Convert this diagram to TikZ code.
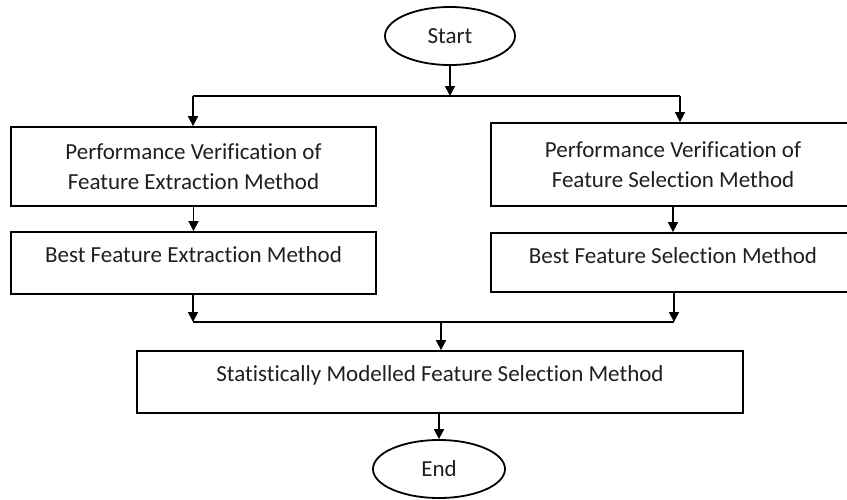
\documentclass[tikz,border=0pt]{standalone}
\usepackage{fontspec}
\setmainfont{Carlito}[Ligatures={NoCommon}]
\usetikzlibrary{arrows.meta,shapes.geometric}
\begin{document}
\begin{tikzpicture}[x=1pt,y=-1pt,
  box/.style={draw, line width=1.8pt, rectangle, inner sep=0pt},
  oval/.style={draw, line width=1.8pt, ellipse, inner sep=0pt, font=\fontsize{23}{27}\selectfont, text=black!88},
  txt/.style={font=\fontsize{23}{30}\selectfont, align=center, text=black!88, inner sep=0pt},
  arr/.style={line width=1.6pt, -{Triangle[length=10pt,width=10pt]}},
  ln/.style={line width=1.4pt}]
\useasboundingbox (0,0) rectangle (847,499);

% shapes
\node[oval, minimum width=130, minimum height=58] (start) at (450,36) {Start};
\node[box, minimum width=365, minimum height=79] (l1) at (193.5,166.5) {};
\node[box, minimum width=365, minimum height=62] (l2) at (193.5,263) {};
\node[box, minimum width=364, minimum height=83] (r1) at (673,164.5) {};
\node[box, minimum width=364, minimum height=59] (r2) at (673,262.5) {};
\node[box, minimum width=606, minimum height=62] (sm) at (440,382) {};
\node[oval, minimum width=132, minimum height=58] (end) at (439,469) {End};

% texts
\node[txt] (tl1) at (l1.center) {Performance Verification of\\Feature Extraction Method};
\node[txt] (tl2) at ([yshift=8pt]l2.center) {Best Feature Extraction Method};
\node[txt] (tr1) at (r1.center) {Performance Verification of\\Feature Selection Method};
\node[txt] (tr2) at ([yshift=7pt]r2.center) {Best Feature Selection Method};
\node[txt] (tsm) at ([yshift=7pt]sm.center) {Statistically Modelled Feature Selection Method};

% joints
\coordinate (j0) at (450,96);
\coordinate (jL) at (193,96);
\coordinate (jR) at (680,96);
\coordinate (mL) at (193,322);
\coordinate (mR) at (674,322);
\coordinate (mC) at (441,322);

% connectors
\draw[arr] (start.south) -- (j0);
\draw[ln] (jL) -- (jR);
\draw[arr] (jL) -- (l1.north -| jL);
\draw[arr] (jR) -- (r1.north -| jR);
\draw[arr] (l1) -- (l2);
\draw[arr] (r1) -- (r2);
\draw[arr] (l2.south -| mL) -- (mL);
\draw[arr] (r2.south -| mR) -- (mR);
\draw[ln] (mL) -- (mR);
\draw[arr] (mC) -- (sm.north -| mC);
\draw[arr] (sm.south -| end) -- (end.north);
\end{tikzpicture}
\end{document}
